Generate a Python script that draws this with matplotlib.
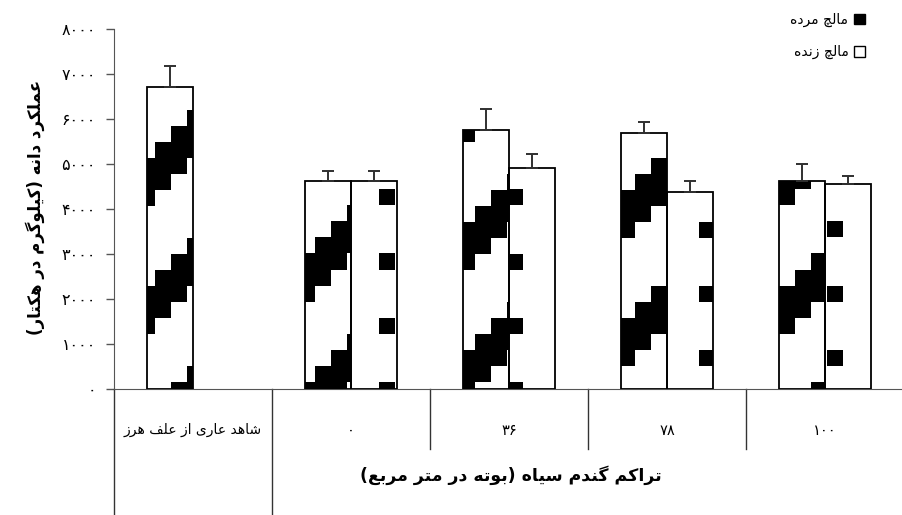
# grain yield under dead / live mulch, grouped bars with pattern fill
import numpy as np
import matplotlib
matplotlib.use('Agg')
import matplotlib.pyplot as plt
from matplotlib.patches import Patch

plt.rcParams['font.family'] = ['DejaVu Sans']

# data (kg/ha)
categories = ['شاهد عاری از علف هرز', '۰', '۳۶', '۷۸', '۱۰۰']
dead_mulch = [6710, 4630, 5760, 5690, 4630]
dead_err = [480, 220, 470, 245, 365]
live_mulch = [np.nan, 4630, 4920, 4375, 4560]
live_err = [0, 220, 300, 258, 185]
yticks = [0, 1000, 2000, 3000, 4000, 5000, 6000, 7000, 8000]
ytick_labels = ['۰', '۱۰۰۰', '۲۰۰۰', '۳۰۰۰', '۴۰۰۰', '۵۰۰۰', '۶۰۰۰', '۷۰۰۰', '۸۰۰۰']
legend_labels = ['مالچ مرده', 'مالچ زنده']
ylabel = 'عملکرد دانه (کیلوگرم در هکتار)'
xtitle = 'تراکم گندم سیاه (بوته در متر مربع)'

# contextual forms: isolated, final, initial, medial (right-joining letters have 2)
FORMS = {
    'ا': ('\ufe8d', '\ufe8e'),
    'ب': ('\ufe8f', '\ufe90', '\ufe91', '\ufe92'),
    'ت': ('\ufe95', '\ufe96', '\ufe97', '\ufe98'),
    'د': ('\ufea9', '\ufeaa'),
    'ر': ('\ufead', '\ufeae'),
    'ز': ('\ufeaf', '\ufeb0'),
    'س': ('\ufeb1', '\ufeb2', '\ufeb3', '\ufeb4'),
    'ش': ('\ufeb5', '\ufeb6', '\ufeb7', '\ufeb8'),
    'ع': ('\ufec9', '\ufeca', '\ufecb', '\ufecc'),
    'ف': ('\ufed1', '\ufed2', '\ufed3', '\ufed4'),
    'ل': ('\ufedd', '\ufede', '\ufedf', '\ufee0'),
    'م': ('\ufee1', '\ufee2', '\ufee3', '\ufee4'),
    'ن': ('\ufee5', '\ufee6', '\ufee7', '\ufee8'),
    'ه': ('\ufee9', '\ufeea', '\ufeeb', '\ufeec'),
    'و': ('\ufeed', '\ufeee'),
    'چ': ('\ufb7a', '\ufb7b', '\ufb7c', '\ufb7d'),
    'ک': ('\ufb8e', '\ufb8f', '\ufb90', '\ufb91'),
    'گ': ('\ufb92', '\ufb93', '\ufb94', '\ufb95'),
    'ی': ('\ufbfc', '\ufbfd', '\ufbfe', '\ufbff'),
}


def fa(text):
    # shape persian letters and put them in visual (left to right) order
    if all(ch in '۰۱۲۳۴۵۶۷۸۹' for ch in text):
        return text
    out = []
    for i, ch in enumerate(text):
        f = FORMS.get(ch)
        if f is None:
            out.append(ch)
            continue
        prev = text[i - 1] if i > 0 else ''
        nxt = text[i + 1] if i + 1 < len(text) else ''
        jp = len(FORMS.get(prev, ())) == 4
        jn = len(f) == 4 and nxt in FORMS
        out.append(f[{(0, 0): 0, (1, 0): 1, (0, 1): 2, (1, 1): 3}[(int(jp), int(jn))]])
    return ''.join(out)[::-1].translate(str.maketrans('()', ')('))


W, H = 902, 515
fig = plt.figure(figsize=(W / 100, H / 100), dpi=100)
ax = fig.add_axes([114 / W, 126 / H, 790 / W, 359.7 / H])

x = np.arange(len(categories))
bw = 0.29
dead_bars = ax.bar(x - bw / 2, dead_mulch, bw, facecolor='none', edgecolor='black', lw=1.3, zorder=3)
live_bars = ax.bar(x + bw / 2, live_mulch, bw, facecolor='none', edgecolor='black', lw=1.3, zorder=3)
ax.errorbar(x - bw / 2, dead_mulch, yerr=[np.zeros(len(x)), dead_err], fmt='none',
            ecolor='#303030', elinewidth=1.4, capsize=4.5, capthick=1.4, zorder=4)
ax.errorbar(x + bw / 2, live_mulch, yerr=[np.zeros(len(x)), live_err], fmt='none',
            ecolor='#303030', elinewidth=1.4, capsize=4.5, capthick=1.4, zorder=4)

ax.set_xlim(-0.5, 4.5)
ax.set_ylim(0, 8000)

# screen anchored excel-like pattern fills, 16 px cells
yy, xx = np.mgrid[0:H, 0:W]
cols = (xx - 11) // 16
rows = (yy - 14) // 16
k = (rows + cols) % 8
dead_mask = (k >= 1) & (k <= 3)
live_mask = ((cols % 8 == 3) & (rows % 4 == 1)) | ((cols % 8 == 7) & (rows % 4 == 3))

inv = ax.transData.inverted()
x0, y0 = inv.transform((0, 0))
x1, y1 = inv.transform((W, H))


def pattern_img(mask):
    img = np.zeros((H, W, 4))
    img[mask, 3] = 1.0
    return img


for bars, mask in [(dead_bars, dead_mask), (live_bars, live_mask)]:
    img = pattern_img(mask)
    for rect in bars:
        if not np.isfinite(rect.get_height()):
            continue
        im = ax.imshow(img, extent=(x0, x1, y0, y1), origin='upper', aspect='auto',
                       interpolation='nearest', zorder=2)
        im.set_clip_path(rect)

ax.set_xlim(-0.5, 4.5)
ax.set_ylim(0, 8000)

for s in ['top', 'right']:
    ax.spines[s].set_visible(False)
ax.spines['left'].set_color('#555555')
ax.spines['bottom'].set_color('#555555')
ax.set_yticks(yticks)
ax.set_yticklabels(ytick_labels, fontsize=11.5)
ax.tick_params(axis='y', length=6, width=1, color='#555555', pad=7)
ax.set_xticks([])

# category table below the axis
for b in [-0.5, 0.5]:
    ax.plot([b, b], [0, -0.35], transform=ax.get_xaxis_transform(), color='#333333', lw=1, clip_on=False)
for b in [1.5, 2.5, 3.5]:
    ax.plot([b, b], [0, -0.167], transform=ax.get_xaxis_transform(), color='#333333', lw=1, clip_on=False)
for xi, lab in zip(x, categories):
    ax.text(xi, -0.115, fa(lab), transform=ax.get_xaxis_transform(),
            ha='center', va='center', fontsize=10.5 if xi else 10)

fig.text(511 / W, 1 - 475 / H, fa(xtitle), ha='center', va='center', fontsize=12.5, fontweight='bold')
fig.text(35 / W, 1 - 207 / H, fa(ylabel), ha='center', va='center', rotation=90, fontsize=12, fontweight='bold')

handles = [Patch(facecolor='black', edgecolor='black'), Patch(facecolor='white', edgecolor='black')]
fig.legend(handles, [fa(t) for t in legend_labels], loc='upper right', bbox_to_anchor=(872 / W, 1 - 6 / H),
           frameon=False, markerfirst=False, handlelength=0.8, handleheight=0.8, handletextpad=0.4,
           labelspacing=1.3, fontsize=10, borderpad=0)

fig.savefig('out.png', dpi=100)
